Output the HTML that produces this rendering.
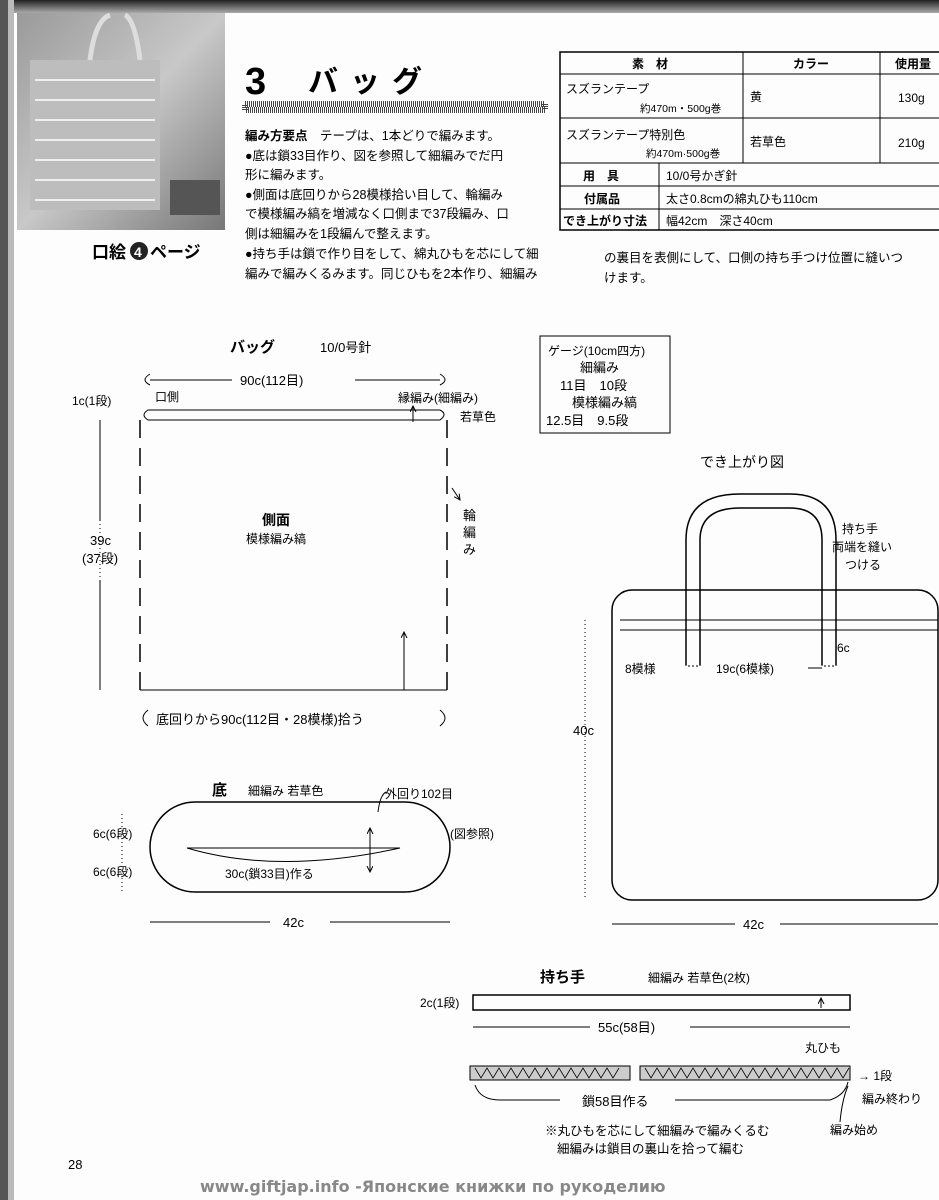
<!DOCTYPE html>
<html><head><meta charset="utf-8"><style>
body{margin:0;background:#fff;}
svg{display:block;font-family:"Liberation Sans","Noto Sans CJK JP",sans-serif;}
</style></head><body>
<svg width="939" height="1200" viewBox="0 0 939 1200" xmlns="http://www.w3.org/2000/svg">
<defs>
<linearGradient id="top" x1="0" y1="0" x2="0" y2="1"><stop offset="0" stop-color="#222"/><stop offset="1" stop-color="#aaa"/></linearGradient>
<linearGradient id="ph" x1="0" y1="0" x2="1" y2="1"><stop offset="0" stop-color="#9a9a9a"/><stop offset="0.5" stop-color="#c8c8c8"/><stop offset="1" stop-color="#777"/></linearGradient>
<marker id="ar" markerWidth="8" markerHeight="8" refX="6" refY="3" orient="auto" markerUnits="userSpaceOnUse"><path d="M0,0 L6,3 L0,6" fill="none" stroke="#000"/></marker>
</defs>
<rect width="939" height="1200" fill="#fdfdfd"/>
<rect x="0" y="0" width="939" height="13" fill="url(#top)"/>
<rect x="0" y="0" width="8" height="1200" fill="#555"/>
<rect x="8" y="0" width="6" height="1200" fill="#bbb"/>
<!-- photo -->
<rect x="17" y="13" width="208" height="217" fill="url(#ph)"/>
<rect x="30" y="60" width="130" height="150" fill="#bdbdbd"/>
<g stroke="#eee" stroke-width="2">
<line x1="35" y1="80" x2="155" y2="80"/><line x1="35" y1="100" x2="155" y2="100"/><line x1="35" y1="120" x2="155" y2="120"/><line x1="35" y1="140" x2="155" y2="140"/><line x1="35" y1="160" x2="155" y2="160"/><line x1="35" y1="180" x2="155" y2="180"/><line x1="35" y1="200" x2="155" y2="200"/></g>
<path d="M90,60 Q95,20 110,15 M140,60 Q135,20 125,15" stroke="#ddd" stroke-width="5" fill="none"/>
<rect x="170" y="180" width="50" height="35" fill="#555"/>
<text x="92" y="258" font-size="17" font-weight="bold">口絵</text>
<circle cx="139" cy="251" r="9" fill="#222"/><text x="134" y="257" font-size="14" fill="#fff" font-weight="bold">4</text>
<text x="150" y="258" font-size="17" font-weight="bold">ページ</text>
<!-- title -->
<text x="245" y="94" font-size="38" font-weight="bold">3</text>
<text x="308" y="92" font-size="30" font-weight="bold" letter-spacing="12">バッグ</text>
<rect x="245" y="104" width="300" height="6" fill="#fff" stroke="#444" stroke-dasharray="1 1" stroke-width="6"/>
<g font-size="12.5">
<text x="245" y="140"><tspan font-weight="bold">編み方要点</tspan>　テープは、1本どりで編みます。</text>
<text x="245" y="160">●底は鎖33目作り、図を参照して細編みでだ円</text>
<text x="245" y="179">形に編みます。</text>
<text x="245" y="199">●側面は底回りから28模様拾い目して、輪編み</text>
<text x="245" y="218">で模様編み縞を増減なく口側まで37段編み、口</text>
<text x="245" y="238">側は細編みを1段編んで整えます。</text>
<text x="245" y="258">●持ち手は鎖で作り目をして、綿丸ひもを芯にして細</text>
<text x="245" y="278">編みで編みくるみます。同じひもを2本作り、細編み</text>
<text x="604" y="262">の裏目を表側にして、口側の持ち手つけ位置に縫いつ</text>
<text x="604" y="282">けます。</text>
</g>
<!-- table -->
<g stroke="#000" fill="none">
<rect x="560" y="52" width="390" height="178" stroke-width="1.5"/>
<line x1="560" y1="74" x2="939" y2="74"/><line x1="560" y1="118" x2="939" y2="118"/><line x1="560" y1="163" x2="939" y2="163"/>
<line x1="560" y1="186" x2="939" y2="186"/><line x1="560" y1="209" x2="939" y2="209"/>
<line x1="743" y1="52" x2="743" y2="163"/><line x1="880" y1="52" x2="880" y2="163"/><line x1="659" y1="163" x2="659" y2="230"/>
</g>
<g font-size="12">
<text x="632" y="68" font-weight="bold" font-size="12">素　材</text>
<text x="793" y="68" font-weight="bold">カラー</text><text x="895" y="68" font-weight="bold">使用量</text>
<text x="566" y="93">スズランテープ</text><text x="640" y="112" font-size="10.5">約470m・500g巻</text>
<text x="750" y="101">黄</text><text x="898" y="102">130g</text>
<text x="566" y="139">スズランテープ特別色</text><text x="646" y="157" font-size="10.5">約470m·500g巻</text>
<text x="750" y="146">若草色</text><text x="898" y="147">210g</text>
<text x="583" y="180" font-weight="bold">用　具</text><text x="666" y="180">10/0号かぎ針</text>
<text x="584" y="203" font-weight="bold">付属品</text><text x="666" y="203">太さ0.8cmの綿丸ひも110cm</text>
<text x="563" y="225" font-weight="bold">でき上がり寸法</text><text x="666" y="225">幅42cm　深さ40cm</text>
</g>
<!-- bag side diagram -->
<g font-size="13">
<text x="230" y="352" font-weight="bold" font-size="15">バッグ</text><text x="320" y="352">10/0号針</text>
<path d="M150,374 Q140,380 150,385 M440,374 Q450,380 440,385" fill="none" stroke="#000"/>
<line x1="150" y1="380" x2="232" y2="380" stroke="#000"/><line x1="355" y1="380" x2="440" y2="380" stroke="#000"/>
<text x="240" y="385">90c(112目)</text>
<text x="72" y="405" font-size="12">1c(1段)</text>
<text x="155" y="401" font-size="12">口側</text>
<text x="398" y="402" font-size="12">縁編み(細編み)</text><text x="460" y="421" font-size="12">若草色</text>
<path d="M148,410 L440,410 Q448,414 440,420 L148,420 Q140,415 148,410 Z" fill="none" stroke="#000"/>
<line x1="413" y1="422" x2="413" y2="406" stroke="#000" marker-end="url(#ar)"/>
<line x1="140" y1="420" x2="140" y2="690" stroke="#000" stroke-width="1.5" stroke-dasharray="18 10"/>
<line x1="447" y1="420" x2="447" y2="690" stroke="#000" stroke-width="1.5" stroke-dasharray="18 10"/>
<line x1="140" y1="690" x2="447" y2="690" stroke="#000"/>
<line x1="404" y1="690" x2="404" y2="632" stroke="#000" marker-end="url(#ar)"/>
<line x1="100" y1="420" x2="100" y2="690" stroke="#000" stroke-dasharray="1 3"/>
<line x1="100" y1="420" x2="100" y2="520" stroke="#000"/><line x1="100" y1="580" x2="100" y2="690" stroke="#000"/>
<text x="90" y="545">39c</text><text x="82" y="563">(37段)</text>
<text x="262" y="525" font-size="14" font-weight="bold">側面</text><text x="246" y="543" font-size="12">模様編み縞</text>
<text x="463" y="520" font-size="13">輪</text><text x="463" y="537">編</text><text x="463" y="554">み</text>
<path d="M452,488 L460,500" stroke="#000" marker-end="url(#ar)"/>
<path d="M148,710 Q138,718 148,726 M440,710 Q450,718 440,726" fill="none" stroke="#000"/>
<text x="156" y="724">底回りから90c(112目・28模様)拾う</text>
<!-- gauge -->
<rect x="540" y="336" width="130" height="97" fill="none" stroke="#000"/>
<text x="548" y="355" font-size="12">ゲージ(10cm四方)</text>
<text x="580" y="372">細編み</text><text x="560" y="390">11目　10段</text>
<text x="572" y="407">模様編み縞</text><text x="546" y="425">12.5目　9.5段</text>
<!-- base -->
<text x="212" y="795" font-weight="bold" font-size="15">底</text><text x="248" y="795" font-size="12">細編み 若草色</text>
<text x="385" y="798" font-size="12">外回り102目</text><path d="M378,812 Q380,795 386,792" fill="none" stroke="#000"/>
<rect x="150" y="802" width="300" height="90" rx="45" fill="none" stroke="#000" stroke-width="1.5"/>
<path d="M187,848 Q278,875 400,848 Z" fill="none" stroke="#000"/>
<line x1="370" y1="850" x2="370" y2="828" stroke="#000" marker-end="url(#ar)"/>
<line x1="370" y1="850" x2="370" y2="872" stroke="#000" marker-end="url(#ar)"/>
<text x="450" y="838" font-size="12">(図参照)</text>
<text x="225" y="878" font-size="12">30c(鎖33目)作る</text>
<text x="93" y="838" font-size="12">6c(6段)</text><text x="93" y="876" font-size="12">6c(6段)</text>
<line x1="122" y1="814" x2="122" y2="892" stroke="#000" stroke-dasharray="1 3"/>
<line x1="150" y1="922" x2="270" y2="922" stroke="#000"/><line x1="330" y1="922" x2="450" y2="922" stroke="#000"/>
<text x="283" y="927">42c</text>
<!-- finished -->
<text x="700" y="467" font-size="14">でき上がり図</text>
<rect x="612" y="590" width="326" height="310" rx="20" fill="none" stroke="#000" stroke-width="1.5"/>
<path d="M620,620 L938,620 M620,630 L938,630" stroke="#000" fill="none"/>
<path d="M686,665 L686,540 Q686,494 740,494 L790,494 Q836,494 836,540 L836,665" fill="none" stroke="#000" stroke-width="1.5"/>
<path d="M700,665 L700,540 Q700,508 740,508 L790,508 Q822,508 822,540 L822,665" fill="none" stroke="#000" stroke-width="1.5"/>
<rect x="686" y="630" width="14" height="36" fill="none" stroke="#000" stroke-dasharray="2 2"/>
<rect x="822" y="630" width="14" height="36" fill="none" stroke="#000" stroke-dasharray="2 2"/>
<text x="842" y="533" font-size="12">持ち手</text><text x="832" y="551" font-size="12">両端を縫い</text><text x="845" y="569" font-size="12">つける</text>
<text x="837" y="652" font-size="12">6c</text>
<text x="625" y="673" font-size="12">8模様</text><text x="716" y="673" font-size="12">19c(6模様)</text>
<line x1="808" y1="668" x2="822" y2="668" stroke="#000"/>
<line x1="585" y1="620" x2="585" y2="900" stroke="#000" stroke-dasharray="1 3"/>
<text x="573" y="735">40c</text>
<line x1="612" y1="924" x2="735" y2="924" stroke="#000"/><line x1="780" y1="924" x2="938" y2="924" stroke="#000"/>
<text x="743" y="929">42c</text>
<!-- handle -->
<text x="540" y="982" font-size="15" font-weight="bold">持ち手</text><text x="648" y="982" font-size="12">細編み 若草色(2枚)</text>
<text x="420" y="1007" font-size="12">2c(1段)</text>
<rect x="473" y="995" width="377" height="15" fill="none" stroke="#000" stroke-width="1.5"/>
<line x1="821" y1="1008" x2="821" y2="998" stroke="#000" marker-end="url(#ar)"/>
<line x1="473" y1="1027" x2="590" y2="1027" stroke="#000"/><line x1="690" y1="1027" x2="850" y2="1027" stroke="#000"/>
<text x="598" y="1032">55c(58目)</text>
<text x="805" y="1052" font-size="12">丸ひも</text>
<rect x="470" y="1066" width="160" height="14" fill="#ccc" stroke="#000"/>
<rect x="640" y="1066" width="210" height="14" fill="#ccc" stroke="#000"/>
<path d="M475,1068 l6,10 l6,-10 l6,10 l6,-10 l6,10 l6,-10 l6,10 l6,-10 l6,10 l6,-10 l6,10 l6,-10 l6,10 l6,-10 l6,10 l6,-10 l6,10 l6,-10 l6,10 l6,-10 l6,10 l6,-10 l6,10 l6,-10" fill="none" stroke="#000" stroke-width="0.8"/>
<path d="M645,1068 l6,10 l6,-10 l6,10 l6,-10 l6,10 l6,-10 l6,10 l6,-10 l6,10 l6,-10 l6,10 l6,-10 l6,10 l6,-10 l6,10 l6,-10 l6,10 l6,-10 l6,10 l6,-10 l6,10 l6,-10 l6,10 l6,-10 l6,10 l6,-10 l6,10 l6,-10 l6,10 l6,-10 l6,10 l6,-10 l6,10 l6,-10" fill="none" stroke="#000" stroke-width="0.8"/>
<path d="M475,1085 Q480,1100 500,1100 L560,1100 M675,1100 L830,1100 Q845,1095 848,1082" fill="none" stroke="#000"/>
<text x="582" y="1106" font-size="13">鎖58目作る</text>
<text x="858" y="1080" font-size="12">→ 1段</text>
<text x="862" y="1103" font-size="12">編み終わり</text>
<text x="830" y="1134" font-size="12">編み始め</text>
<path d="M840,1122 Q842,1100 848,1086" fill="none" stroke="#000"/>
<text x="545" y="1135" font-size="12.5">※丸ひもを芯にして細編みで編みくるむ</text>
<text x="557" y="1153" font-size="12.5">細編みは鎖目の裏山を拾って編む</text>
</g>
<text x="68" y="1169" font-size="13">28</text>
<text x="200" y="1192" font-size="16" font-weight="bold" fill="#888" font-family="'DejaVu Sans',sans-serif">www.giftjap.info -Японские книжки по рукоделию</text>
</svg>
</body></html>
